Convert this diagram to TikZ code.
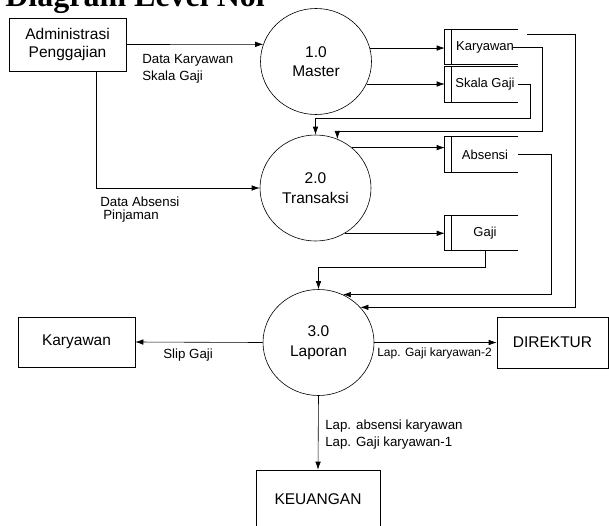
\documentclass[tikz,border=0pt]{standalone}
\usepackage{fontspec}
\setmainfont{Liberation Sans}
\newfontfamily\judulfont{Liberation Serif}
\usetikzlibrary{arrows.meta,shapes.geometric}

\begin{document}
\begin{tikzpicture}[x=1pt, y=-1pt, line width=0.6pt,
    proses/.style={draw, ellipse, minimum width=111pt, minimum height=106pt, inner sep=0pt, align=center, font=\fontsize{15.5}{19.5}\selectfont},
    entitas/.style={draw, rectangle, align=center, inner sep=0pt, font=\fontsize{15.5}{18}\selectfont},
    simpan/.style={minimum width=66pt, minimum height=34pt, inner sep=0pt, font=\fontsize{13}{15}\selectfont},
    arus/.style={-{Latex[length=8pt,width=5.5pt]}},
    ket/.style={align=left, inner sep=1pt, font=\fontsize{13.3}{17}\selectfont}]
\useasboundingbox (0,0) rectangle (609,525);

% judul, terpotong di tepi atas
\node[anchor=base west, inner sep=0pt, font=\judulfont\bfseries\fontsize{32}{32}\selectfont] (judul) at (5,6) {Diagram Level Nol};

% entitas luar
\node[entitas, minimum width=117pt, minimum height=53pt] (admin) at (67.5,44.5) {Administrasi\\Penggajian};
\node[entitas, minimum width=117pt, minimum height=50pt] (karyawanE) at (76.5,342) {Karyawan};
\node[entitas, minimum width=111pt, minimum height=51pt] (direktur) at (552.5,342.5) {DIREKTUR};
\node[entitas, minimum width=124pt, minimum height=58pt] (keuangan) at (318,499) {KEUANGAN};

% proses
\node[proses] (master) at (316,61.5) {1.0\\Master};
\node[proses] (transaksi) at (315.5,188) {2.0\\Transaksi};
\node[proses] (laporan) at (318.5,342.5) {3.0\\Laporan};

% data store
\node[simpan] (karyawan) at (485,47) {Karyawan};
\node[simpan, minimum height=35pt] (skala) at (485,84.5) {Skala Gaji};
\node[simpan, minimum height=35pt] (absensi) at (485,154.5) {Absensi};
\node[simpan] (gaji) at (485,233) {Gaji};
\foreach \s in {karyawan,skala,absensi,gaji}
  \draw (\s.north east) -- ([xshift=-7pt]\s.north west) -- ([xshift=-7pt]\s.south west) -- (\s.south east)
        (\s.north west) -- (\s.south west);

% arus data
\draw[arus] (admin.east) -- (master.162);
\draw[arus] ([xshift=28.5pt]admin.south) |- (transaksi.west);
\draw[arus] (master.14) -- ([xshift=-7pt]master.14 -| karyawan.west);
\draw[arus] (master.-24) -- ([xshift=-7pt]master.-24 -| skala.west);
\draw[arus] ([xshift=-5pt]karyawan.east) -| (542,131) -| (transaksi.66);
\draw[arus] (skala.east) -| (530,118) -| (transaksi.north);
\draw[arus] ([xshift=9pt,yshift=-5pt]karyawan.north east) -- ++(48,0) |- (laporan.40);
\draw[arus] (transaksi.48) -- ([xshift=-7pt]transaksi.48 -| absensi.west);
\draw[arus] (transaksi.-57) -- ([xshift=-7pt]transaksi.-57 -| gaji.west);
\draw[arus] (absensi.east) -- ++(33,0) |- (laporan.63);
\draw[arus] (gaji.south) -- ++(0,17) -| (laporan.north);
\draw[arus] (laporan.west) -- (karyawanE.east);
\draw[arus] (laporan.east) -- (direktur.west);
\draw[arus] (laporan.south) -- (keuangan.north);

% keterangan arus
\node[ket, anchor=north west] (ketmaster) at (141,53.5) {Data Karyawan\\Skala Gaji};
\node[ket, anchor=north west, font=\fontsize{13.3}{13.5}\selectfont] (kettransaksi) at (99,195.5) {Data Absensi\\\hspace*{3pt}Pinjaman};
\node[ket, anchor=base west] (ketslip) at (162,358.3) {Slip Gaji};
\node[ket, anchor=base west, font=\fontsize{12}{14}\selectfont] (ketdirektur) at (376,356.7) {Lap. Gaji karyawan-2};
\node[ket, anchor=north west] (ketkeuangan) at (324,418.5) {Lap. absensi karyawan\\Lap. Gaji karyawan-1};
\end{tikzpicture}
\end{document}
